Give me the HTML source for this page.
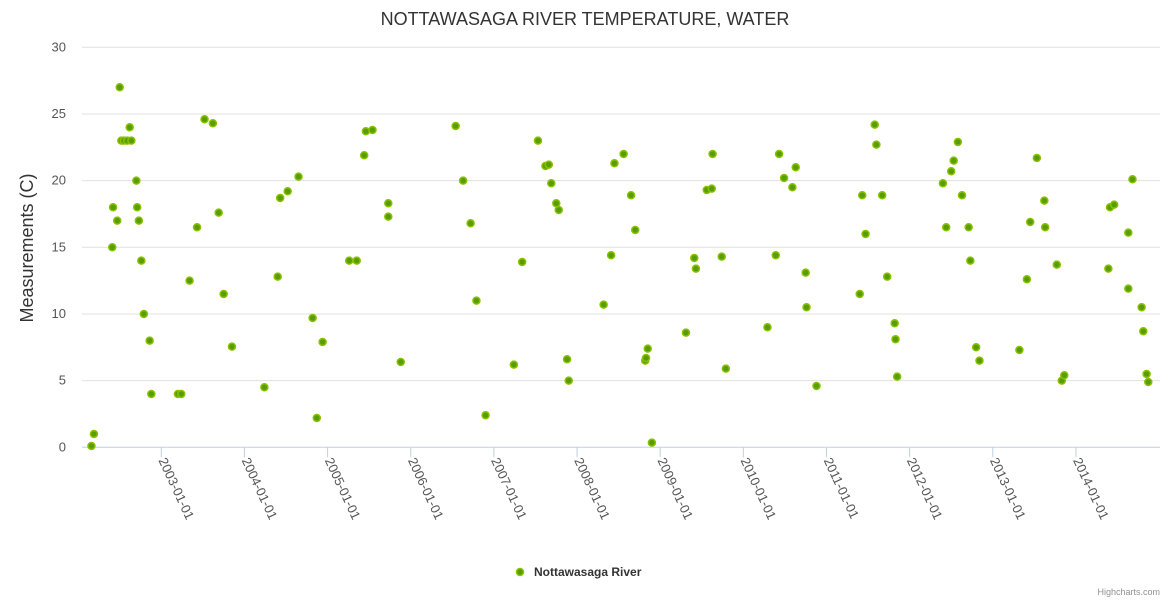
<!DOCTYPE html>
<html><head><meta charset="utf-8"><style>
body{margin:0;background:#fff}
svg{display:block;font-family:"Liberation Sans",sans-serif}
</style></head><body>
<svg id="chart" width="1170" height="600">
<text x="585" y="25" text-anchor="middle" font-size="18" fill="#333">NOTTAWASAGA RIVER TEMPERATURE, WATER</text>
<text transform="translate(33,248) rotate(-90)" text-anchor="middle" font-size="18" fill="#333">Measurements (C)</text>
<g id="grid"></g><g id="xaxis"></g><g id="pts"></g>
<g>
<circle cx="520" cy="572" r="3.5" fill="#559f00" stroke="#8cbf00" stroke-width="1.5"/>
<text x="534" y="576" font-size="12" font-weight="bold" fill="#333">Nottawasaga River</text>
</g>
<text x="1160" y="595" text-anchor="end" font-size="9" fill="#909090">Highcharts.com</text>
</svg>
<script>
const yTicks=[0,5,10,15,20,25,30];
const xTickYears=[2003,2004,2005,2006,2007,2008,2009,2010,2011,2012,2013,2014];
const dates=[2002.16,2002.19,2002.41,2002.42,2002.47,2002.50,2002.52,2002.55,2002.59,2002.64,2002.62,2002.70,2002.71,2002.73,2002.76,2002.79,2002.86,2002.88,2003.20,2003.24,2003.34,2003.43,2003.52,2003.62,2003.69,2003.75,2003.85,2004.24,2004.40,2004.43,2004.52,2004.65,2004.82,2004.87,2004.94,2005.26,2005.35,2005.44,2005.46,2005.54,2005.73,2005.73,2005.88,2006.54,2006.63,2006.72,2006.79,2006.90,2007.24,2007.34,2007.53,2007.62,2007.66,2007.69,2007.75,2007.78,2007.88,2007.90,2008.32,2008.41,2008.45,2008.56,2008.65,2008.70,2008.82,2008.83,2008.85,2008.90,2009.31,2009.41,2009.43,2009.56,2009.62,2009.63,2009.74,2009.79,2010.29,2010.39,2010.43,2010.49,2010.59,2010.63,2010.75,2010.76,2010.88,2011.40,2011.43,2011.47,2011.58,2011.60,2011.67,2011.73,2011.82,2011.83,2011.85,2012.40,2012.44,2012.50,2012.53,2012.58,2012.63,2012.71,2012.73,2012.80,2012.84,2013.32,2013.41,2013.45,2013.53,2013.62,2013.63,2013.77,2013.83,2013.86,2014.39,2014.41,2014.46,2014.63,2014.63,2014.68,2014.79,2014.81,2014.85,2014.87];
const temps=[0.1,1.0,15.0,18.0,17.0,27.0,23.0,23.0,23.0,23.0,24.0,20.0,18.0,17.0,14.0,10.0,8.0,4.0,4.0,4.0,12.5,16.5,24.6,24.3,17.6,11.5,7.55,4.5,12.8,18.7,19.2,20.3,9.7,2.2,7.9,14.0,14.0,21.9,23.7,23.8,18.3,17.3,6.4,24.1,20.0,16.8,11.0,2.4,6.2,13.9,23.0,21.1,21.2,19.8,18.3,17.8,6.6,5.0,10.7,14.4,21.3,22.0,18.9,16.3,6.5,6.7,7.4,0.35,8.6,14.2,13.4,19.3,19.4,22.0,14.3,5.9,9.0,14.4,22.0,20.2,19.5,21.0,13.1,10.5,4.6,11.5,18.9,16.0,24.2,22.7,18.9,12.8,9.3,8.1,5.3,19.8,16.5,20.7,21.5,22.9,18.9,16.5,14.0,7.5,6.5,7.3,12.6,16.9,21.7,18.5,16.5,13.7,5.0,5.4,13.4,18.0,18.2,16.1,11.9,20.1,10.5,8.7,5.5,4.9];
const NS='http://www.w3.org/2000/svg';
const L=82,R=1160,T=47.3,B=447.3,xMin=2002.0463,xMax=2015.011;
function xs(v){return L+(v-xMin)/(xMax-xMin)*(R-L);}
function ys(v){return B-(v/30)*(B-T);}
function mk(tag,a,p){const e=document.createElementNS(NS,tag);for(const k in a)e.setAttribute(k,a[k]);p.appendChild(e);return e;}
const grid=document.getElementById('grid');
yTicks.forEach(v=>{
  const ln=mk('line',{x1:L,x2:R,y1:ys(v),y2:ys(v),stroke:v===0?'#c0d0e0':'#e0e0e0','stroke-width':1},grid);
  
  
  const t=mk('text',{x:66,y:ys(v)+4,'text-anchor':'end','font-size':13,fill:'#555'},grid);
  t.textContent=v;
  
  
});
const xa=document.getElementById('xaxis');
xTickYears.forEach(yr=>{
  const x=xs(yr);
  const tk=mk('line',{x1:x,x2:x,y1:B,y2:B+10,stroke:'#c0d0e0','stroke-width':1},xa);
  
  
  const t=mk('text',{transform:'translate('+(x-3)+','+(B+13)+') rotate(65)','font-size':13,fill:'#555'},xa);
  t.textContent=yr+'-01-01';
  
  
});
const pts=document.getElementById('pts');
dates.forEach((d,i)=>{
  const c=mk('circle',{cx:xs(d),cy:ys(temps[i]),r:3.5,fill:'#559f00',stroke:'#8cbf00','stroke-width':1.5},pts);
  
  
});
</script>
</body></html>
